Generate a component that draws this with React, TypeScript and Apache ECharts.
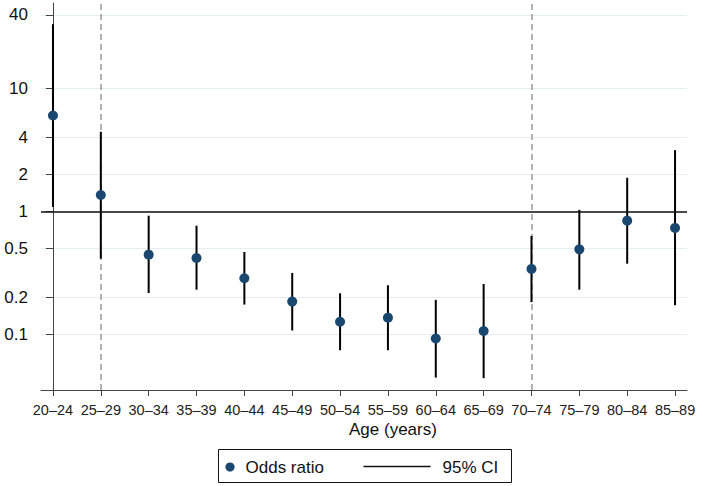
import React, { useEffect, useRef } from "react";
import * as echarts from "echarts";

const categories = [
  "20–24", "25–29", "30–34", "35–39", "40–44", "45–49", "50–54",
  "55–59", "60–64", "65–69", "70–74", "75–79", "80–84", "85–89",
];
const oddsRatio = [6.05, 1.36, 0.444, 0.417, 0.285, 0.184, 0.126, 0.136, 0.092, 0.106, 0.34, 0.491, 0.84, 0.733];
const ciLower = [1.086, 0.412, 0.216, 0.23, 0.174, 0.107, 0.0738, 0.0738, 0.0442, 0.0437, 0.182, 0.23, 0.375, 0.172];
const ciUpper = [33.6, 4.46, 0.923, 0.765, 0.467, 0.315, 0.215, 0.25, 0.19, 0.256, 0.631, 1.03, 1.88, 3.16];
const yTicks = [0.1, 0.2, 0.5, 1, 2, 4, 10, 40];
const cutoffCategories = ["25–29", "70–74"];
const referenceOR = 1;

const FONT = "'Liberation Sans', Arial, Helvetica, sans-serif";

export default function App() {
  const ref = useRef<HTMLDivElement>(null);

  useEffect(() => {
    if (!ref.current) return;
    const chart = echarts.init(ref.current, undefined, { renderer: "svg" });
    const xIdx = categories.map((_, i) => i);

    const option: any = {
      animation: false,
      backgroundColor: "#ffffff",
      textStyle: { fontFamily: FONT },
      grid: { left: 41, right: 22, top: 3, bottom: 96, containLabel: false },
      xAxis: {
        type: "value",
        min: -0.25,
        max: 13.25,
        axisLine: { show: true, lineStyle: { color: "#444", width: 1 } },
        axisTick: { show: true, length: 6, customValues: xIdx, lineStyle: { color: "#444", width: 1 } },
        axisLabel: {
          customValues: xIdx,
          formatter: (v: number) => categories[Math.round(v)] ?? "",
          fontSize: 14.5,
          color: "#222",
          margin: 12,
          fontFamily: FONT,
        },
        splitLine: { show: false },
      },
      yAxis: {
        type: "log",
        logBase: 10,
        min: 0.035,
        max: 50,
        axisLine: { show: true, lineStyle: { color: "#444", width: 1 } },
        axisTick: { show: true, length: 7, customValues: yTicks, lineStyle: { color: "#444", width: 1 } },
        axisLabel: {
          customValues: yTicks,
          formatter: (v: number) => String(Number(v.toPrecision(3))),
          fontSize: 17,
          color: "#111",
          margin: 13,
          fontFamily: FONT,
        },
        splitLine: { show: true, lineStyle: { color: "#e4eef2", width: 1 } },
      },
      series: [
        {
          type: "scatter",
          name: "cutoffs",
          data: [],
          z: 1,
          silent: true,
          markLine: {
            z: 1,
            silent: true,
            symbol: "none",
            label: { show: false },
            lineStyle: { color: "#9a9a9a", width: 1.5, type: [6, 4] },
            data: cutoffCategories.map((c) => ({ xAxis: categories.indexOf(c) })),
          },
        },
        {
          type: "custom",
          name: "95% CI",
          z: 2,
          silent: true,
          encode: { x: 0, y: [1, 2] },
          data: xIdx.map((i) => [i, ciLower[i], ciUpper[i]]),
          renderItem: (params: any, api: any) => {
            const x = api.value(0);
            const p1 = api.coord([x, api.value(1)]);
            const p2 = api.coord([x, api.value(2)]);
            return {
              type: "line",
              shape: { x1: p1[0], y1: p1[1], x2: p2[0], y2: p2[1] },
              style: { stroke: "#000", lineWidth: 2 },
            };
          },
        },
        {
          type: "scatter",
          name: "ref",
          data: [],
          z: 3,
          silent: true,
          markLine: {
            z: 3,
            silent: true,
            symbol: "none",
            label: { show: false },
            lineStyle: { color: "#111", width: 1.5, type: "solid" },
            data: [{ yAxis: referenceOR }],
          },
        },
        {
          type: "scatter",
          name: "Odds ratio",
          z: 4,
          symbol: "circle",
          symbolSize: 10,
          itemStyle: { color: "#1a476f", opacity: 1 },
          data: xIdx.map((i) => [i, oddsRatio[i]]),
        },
      ],
      graphic: [
        {
          type: "text",
          left: 394 - 45,
          top: 421,
          style: { text: "Age (years)", font: `17px ${FONT}`, fill: "#111" },
        },
        {
          type: "group",
          left: 218,
          top: 449,
          children: [
            {
              type: "rect",
              shape: { x: 0, y: 0, width: 293, height: 33 },
              style: { fill: "#fff", stroke: "#111", lineWidth: 1 },
            },
            {
              type: "circle",
              shape: { cx: 11.5, cy: 17.5, r: 4.6 },
              style: { fill: "#1a476f" },
            },
            {
              type: "text",
              x: 27,
              y: 17.5,
              style: { text: "Odds ratio", font: `17px ${FONT}`, fill: "#111", verticalAlign: "middle", align: "left" },
            },
            {
              type: "line",
              shape: { x1: 145, y1: 17, x2: 212, y2: 17 },
              style: { stroke: "#111", lineWidth: 1.5 },
            },
            {
              type: "text",
              x: 224,
              y: 17.5,
              style: { text: "95% CI", font: `17px ${FONT}`, fill: "#111", verticalAlign: "middle", align: "left" },
            },
          ],
        },
      ],
    };

    chart.setOption(option);
    return () => chart.dispose();
  }, []);

  return (
    <div
      ref={ref}
      style={{ position: "fixed", left: 0, top: 0, width: 709, height: 486, background: "#fff" }}
    />
  );
}
